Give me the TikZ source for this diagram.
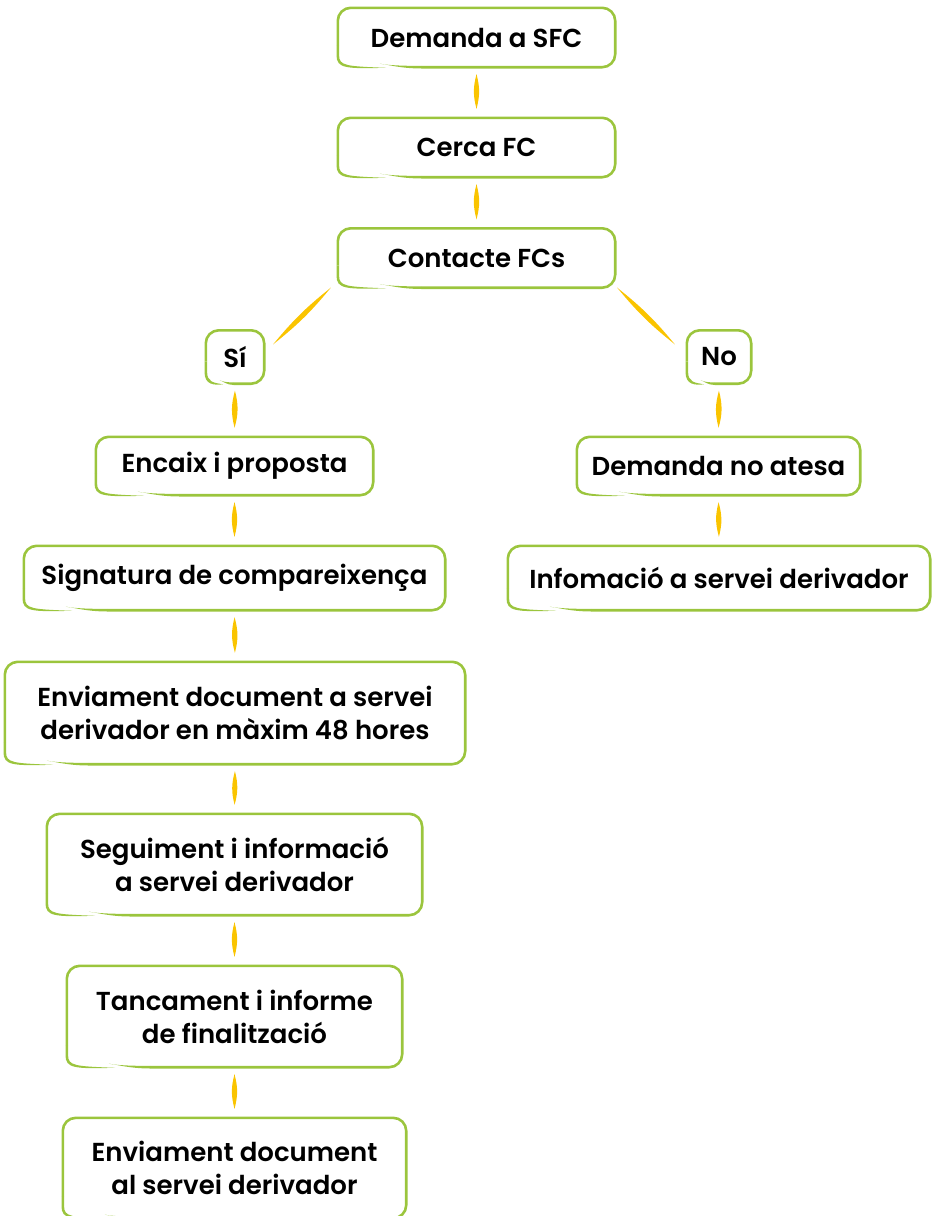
\documentclass[tikz,border=0pt]{standalone}
\usepackage{fontspec}
\setmainfont{Poppins}[BoldFont={Poppins SemiBold}]
\usepackage{tikz}
\usetikzlibrary{calc}
\definecolor{framegreen}{RGB}{155,197,61}
\definecolor{linkyellow}{RGB}{250,196,0}

% brush-style frame round a node: #1 node name, #2 tail length
\newcommand{\brushframe}[2]{%
  \draw[frameline] ($(#1.south west)+(0,-22)$) -- (#1.north west) -- (#1.north east) -- (#1.south east) -- ($(#1.south west)+({2*#2},0)$);
  \fill[framegreen] ($(#1.south west)+({2*#2},-1.3)$) .. controls ($(#1.south west)+({1.5*#2},-1.3)$) and ($(#1.south west)+({1.2*#2},-2)$) .. ($(#1.south west)+(#2,-3.5)$) .. controls ($(#1.south west)+({1.2*#2},-2.6)$) and ($(#1.south west)+({1.5*#2},1.3)$) .. ($(#1.south west)+({2*#2},1.3)$) -- cycle;
  \fill[framegreen] ($(#1.south west)+(-1.3,-22)$) -- ($(#1.south west)+(-1.3,-12)$) .. controls ($(#1.south west)+(-1.3,1.3)$) and ($(#1.south west)+(8,1.6)$) .. ($(#1.south west)+({1.1*#2+2},0.6)$) .. controls ($(#1.south west)+(8,-1)$) and ($(#1.south west)+(1.3,-1.3)$) .. ($(#1.south west)+(1.3,-12)$) -- ($(#1.south west)+(1.3,-22)$) -- cycle;
}
% yellow leaf between two nodes
\newcommand{\leaflink}[2]{%
  \fill[linkyellow] ($(#1.south)!7pt!(#2.north)$) to[bend left=15] ($(#2.north)!9pt!(#1.south)$) to[bend left=15] ($(#1.south)!7pt!(#2.north)$) -- cycle;
}

\begin{document}
\begin{tikzpicture}[x=1pt, y=-1pt,
    stepnode/.style={rectangle, inner sep=0pt, align=center, font=\fontsize{26}{33}\selectfont\bfseries},
    frameline/.style={draw=framegreen, line width=2.6pt, rounded corners=13pt}]
    \useasboundingbox (0,0) rectangle (932,1216);

    % main column
    \node[stepnode, minimum width=277, minimum height=59] (demanda) at (476.5,37.5) {Demanda a SFC};
    \node[stepnode, minimum width=277, minimum height=59] (cerca) at (476.5,147.5) {Cerca FC};
    \node[stepnode, minimum width=277, minimum height=59] (contacte) at (476.5,258) {Contacte FCs};

    % answers
    \node[stepnode, minimum width=58, minimum height=53] (si) at (235,357) {Sí};
    \node[stepnode, minimum width=64, minimum height=53] (no) at (719,357) {No};

    % yes branch
    \node[stepnode, minimum width=277, minimum height=58] (encaix) at (234.5,466) {Encaix i proposta};
    \node[stepnode, minimum width=421, minimum height=64] (signatura) at (234.5,578) {Signatura de compareixença};
    \node[stepnode, minimum width=460, minimum height=102] (enviament) at (235,713) {Enviament document a servei\\derivador en màxim 48 hores};
    \node[stepnode, minimum width=375, minimum height=101] (seguiment) at (234.5,864.5) {Seguiment i informació\\a servei derivador};
    \node[stepnode, minimum width=335, minimum height=101] (tancament) at (234.5,1016.5) {Tancament i informe\\de finalització};
    \node[stepnode, minimum width=343, minimum height=100] (final) at (234.5,1168) {Enviament document\\al servei derivador};

    % no branch
    \node[stepnode, minimum width=283, minimum height=58] (noatesa) at (718.5,466) {Demanda no atesa};
    \node[stepnode, minimum width=422, minimum height=64] (infomacio) at (719,578) {Infomació a servei derivador};

    % frames
    \brushframe{demanda}{42}
    \brushframe{cerca}{42}
    \brushframe{contacte}{42}
    \brushframe{si}{14}
    \brushframe{no}{14}
    \brushframe{encaix}{42}
    \brushframe{signatura}{42}
    \brushframe{enviament}{42}
    \brushframe{seguiment}{42}
    \brushframe{tancament}{42}
    \brushframe{final}{42}
    \brushframe{noatesa}{42}
    \brushframe{infomacio}{42}

    % links
    \leaflink{demanda}{cerca}
    \leaflink{cerca}{contacte}
    \leaflink{si}{encaix}
    \leaflink{encaix}{signatura}
    \leaflink{signatura}{enviament}
    \leaflink{enviament}{seguiment}
    \leaflink{seguiment}{tancament}
    \leaflink{tancament}{final}
    \leaflink{no}{noatesa}
    \leaflink{noatesa}{infomacio}

    % diagonal links
    \coordinate (leftTop) at ($(contacte.south west)+(-7,0)$);
    \coordinate (leftEnd) at ($(si.north east)+(9,14)$);
    \coordinate (rightTop) at ($(contacte.south east)+(2,0)$);
    \coordinate (rightEnd) at ($(no.north west)+(-12,14)$);
    \fill[linkyellow] (leftTop) to[bend left=6] (leftEnd) to[bend left=6] (leftTop) -- cycle;
    \fill[linkyellow] (rightTop) to[bend left=6] (rightEnd) to[bend left=6] (rightTop) -- cycle;
\end{tikzpicture}
\end{document}
